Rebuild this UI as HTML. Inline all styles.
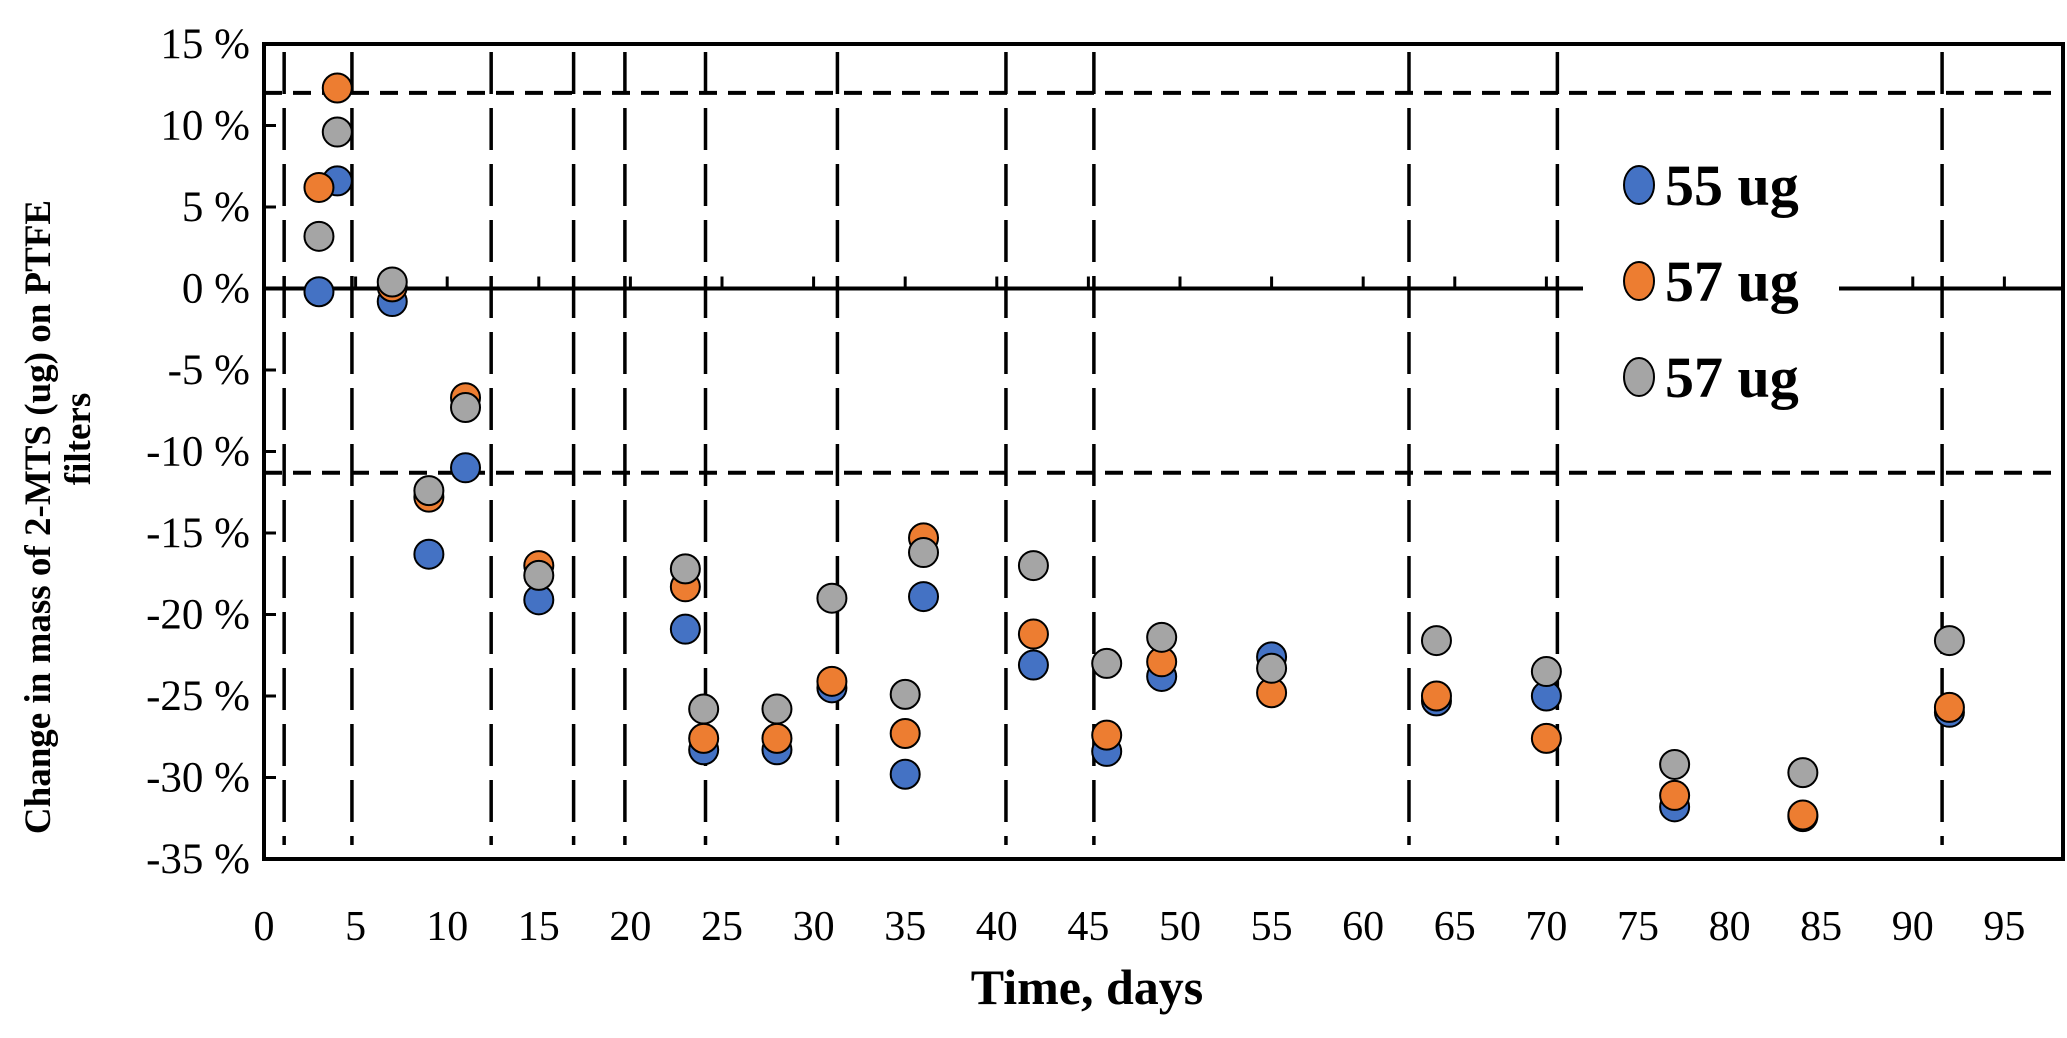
<!DOCTYPE html>
<html><head><meta charset="utf-8"><style>
html,body{margin:0;padding:0;background:#fff;}
svg{display:block;}
text{font-family:"Liberation Serif","Times New Roman",serif;}
</style></head><body>
<svg id="chart" width="2067" height="1038" viewBox="0 0 2067 1038" xmlns="http://www.w3.org/2000/svg">
<g id="grid"></g>
<g id="axes"></g>
<g id="marks"></g>
<g id="legend"></g>
<text x="1087" y="1004" text-anchor="middle" font-size="50" font-weight="bold">Time, days</text>
<text transform="translate(50,517) rotate(-90)" text-anchor="middle" font-size="37" font-weight="bold">Change in mass of 2-MTS (ug) on PTFE</text>
<text transform="translate(90,439) rotate(-90)" text-anchor="middle" font-size="37" font-weight="bold">filters</text>
</svg>
<script>
const days = [3,4,7,9,11,15,23,24,28,31,35,36,42,46,49,55,64,70,77,84,92];
const s55 = [-0.2,6.6,-0.8,-16.3,-11.0,-19.1,-20.9,-28.3,-28.3,-24.5,-29.8,-18.9,-23.1,-28.4,-23.8,-22.6,-25.3,-25.0,-31.8,-32.4,-26.0];
const s57a = [6.2,12.3,0.1,-12.8,-6.7,-17.0,-18.3,-27.6,-27.6,-24.1,-27.3,-15.3,-21.2,-27.4,-22.9,-24.8,-25.0,-27.6,-31.1,-32.3,-25.7];
const s57b = [3.2,9.6,0.4,-12.4,-7.3,-17.6,-17.2,-25.8,-25.8,-19.0,-24.9,-16.2,-17.0,-23.0,-21.4,-23.3,-21.6,-23.5,-29.2,-29.7,-21.6];
const seriesNames = ["55 ug","57 ug","57 ug"];
const seriesColors = ["#4472c4","#ed7d31","#a5a5a5"];
const xTicks = [0,5,10,15,20,25,30,35,40,45,50,55,60,65,70,75,80,85,90,95];
const yTicks = [15,10,5,0,-5,-10,-15,-20,-25,-30,-35];
const yTickLabels = ["15 %","10 %","5 %","0 %","-5 %","-10 %","-15 %","-20 %","-25 %","-30 %","-35 %"];
const vLines = [1.1,4.8,12.4,16.9,19.7,24.1,31.3,40.5,45.3,62.5,70.6,91.6];
const hLines = [12,-11.3];

const L=264,R=2063,T=44,B=859,xMin=0,xMax=98.2,yMin=-35,yMax=15;
const X=v=>L+(v-xMin)/(xMax-xMin)*(R-L);
const Y=v=>T+(yMax-v)/(yMax-yMin)*(B-T);
const NS="http://www.w3.org/2000/svg";
function mk(tag,parent,attrs){const e=document.createElementNS(NS,tag);for(const k in attrs)e.setAttribute(k,attrs[k]);parent.appendChild(e);return e;}
const grid=document.getElementById('grid'),axes=document.getElementById('axes'),marks=document.getElementById('marks'),legend=document.getElementById('legend');

vLines.forEach(d=>{
  const l=mk('line',grid,{x1:X(d),x2:X(d),y1:T+8,y2:B-14,stroke:'#000','stroke-width':3.5,'stroke-dasharray':'42 14'});
  
  
});
hLines.forEach(v=>{
  const l=mk('line',grid,{x1:L,x2:R-8,y1:Y(v),y2:Y(v),stroke:'#000','stroke-width':4,'stroke-dasharray':'18 11'});
  
  
});
const fr=mk('rect',axes,{x:L,y:T,width:R-L,height:B-T,fill:'none',stroke:'#000','stroke-width':4});


const zl=mk('line',axes,{x1:L,x2:R,y1:Y(0),y2:Y(0),stroke:'#000','stroke-width':4});


xTicks.forEach(t=>{
  const tk=mk('line',axes,{x1:X(t),x2:X(t),y1:Y(0),y2:Y(0)-12,stroke:'#000','stroke-width':3});
  
  
  const tx=mk('text',axes,{x:X(t),y:940,'text-anchor':'middle','font-size':42});
  tx.textContent=t;
  
  
});
yTicks.forEach((t,i)=>{
  const tk=mk('line',axes,{x1:L,x2:L+12,y1:Y(t),y2:Y(t),stroke:'#000','stroke-width':3});
  
  
  const tx=mk('text',axes,{x:250,y:Y(t)+14,'text-anchor':'end','font-size':43});
  tx.textContent=yTickLabels[i];
  
  
});
[s55,s57a,s57b].forEach((s,si)=>{
  s.forEach((v,i)=>{
    const c=mk('circle',marks,{cx:X(days[i]),cy:Y(v),r:14.5,fill:seriesColors[si],stroke:'#000','stroke-width':2});
    
    
  });
});
const lb=mk('rect',legend,{x:1583,y:150,width:256,height:270,fill:'#fff'});


seriesNames.forEach((n,i)=>{
  const y=185+i*96;
  const c=mk('ellipse',legend,{cx:1639,cy:y,rx:15,ry:19,fill:seriesColors[i],stroke:'#000','stroke-width':2});
  
  
  const t=mk('text',legend,{x:1665,y:y+20,'font-size':58,'font-weight':'bold'});
  t.textContent=n;
  
  
});
</script>
</body></html>
